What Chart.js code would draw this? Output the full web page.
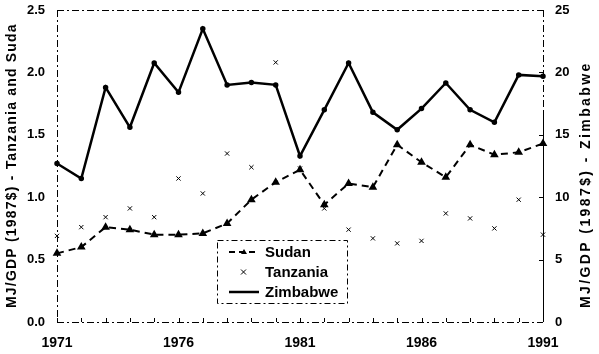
<!DOCTYPE html>
<html>
<head>
<meta charset="utf-8">
<script src="https://cdn.jsdelivr.net/npm/chart.js@4"></script>
<style>
  body { margin: 0; background: #fff; }
  #wrap { width: 599px; height: 354px; }
</style>
</head>
<body>
<div id="wrap"><canvas id="energyChart" width="599" height="354"></canvas></div>
<script>
// Years on the x axis
const years = ["1971", "1972", "1973", "1974", "1975", "1976", "1977", "1978", "1979", "1980",
  "1981", "1982", "1983", "1984", "1985", "1986", "1987", "1988", "1989", "1990", "1991"];

// MJ/GDP, left axis
const sudan = [0.55, 0.60, 0.76, 0.74, 0.70, 0.70, 0.71, 0.79, 0.98, 1.12,
  1.22, 0.94, 1.11, 1.08, 1.42, 1.28, 1.16, 1.42, 1.34, 1.36, 1.43];
const tanzania = [0.69, 0.76, 0.84, 0.91, 0.84, 1.15, 1.03, 1.35, 1.24, 2.08,
  1.23, 0.91, 0.74, 0.67, 0.63, 0.65, 0.87, 0.83, 0.75, 0.98, 0.70];

// MJ/GDP, right axis
const zimbabwe = [12.7, 11.5, 18.8, 15.6, 20.75, 18.4, 23.5, 19.0, 19.2, 19.0,
  13.3, 17.0, 20.75, 16.8, 15.4, 17.1, 19.15, 17.0, 16.0, 19.8, 19.7];

// Tick labels shown on the x axis
const xTickLabels = ["1971", "1976", "1981", "1986", "1991"];

const leftTitle = "MJ/GDP (1987$) - Tanzania and Suda";
const rightTitle = "MJ/GDP (1987$) - Zimbabwe";

const tickFont = { family: "Liberation Sans, Arial, sans-serif", size: 13, weight: "bold" };

// Frame, inner tick marks, axis titles and the boxed legend
const framePlugin = {
  id: "frame",
  afterDraw(chart) {
    const ctx = chart.ctx;
    const a = chart.chartArea;
    const x = chart.scales.x;
    const yR = chart.scales.y1;
    ctx.save();
    ctx.strokeStyle = "#000";
    ctx.fillStyle = "#000";
    ctx.lineWidth = 1;

    ctx.setLineDash([7, 3, 2, 3]);
    ctx.beginPath();
    ctx.moveTo(a.left, a.top + 0.5); ctx.lineTo(a.right, a.top + 0.5);
    ctx.moveTo(a.left + 0.5, a.top); ctx.lineTo(a.left + 0.5, a.bottom);
    ctx.moveTo(a.left, a.bottom + 0.5); ctx.lineTo(a.right, a.bottom + 0.5);
    ctx.moveTo(a.right + 0.5, a.top); ctx.lineTo(a.right + 0.5, a.top + 100);
    ctx.stroke();
    ctx.setLineDash([]);
    ctx.beginPath();
    ctx.moveTo(a.right + 0.5, a.top + 100); ctx.lineTo(a.right + 0.5, a.bottom);
    ctx.stroke();

    // small ticks pointing into the plot
    ctx.beginPath();
    years.forEach((yr, i) => {
      const px = Math.round(x.getPixelForValue(i)) + 0.5;
      ctx.moveTo(px, a.bottom); ctx.lineTo(px, a.bottom - 4);
    });
    [0, 5, 10, 15, 20, 25].forEach(v => {
      const py = Math.round(yR.getPixelForValue(v)) + 0.5;
      ctx.moveTo(a.right, py); ctx.lineTo(a.right - 4, py);
    });
    ctx.stroke();

    // axis titles (rotated, spaced like the scan)
    ctx.font = "bold 14px Liberation Sans, Arial, sans-serif";
    ctx.textBaseline = "middle";
    ctx.textAlign = "left";
    ctx.save();
    ctx.translate(12, 308);
    ctx.rotate(-Math.PI / 2);
    ctx.letterSpacing = "1.2px";
    ctx.fillText(leftTitle, 0, 0);
    ctx.restore();
    ctx.save();
    ctx.translate(586, 308);
    ctx.rotate(-Math.PI / 2);
    ctx.letterSpacing = "2.4px";
    ctx.fillText(rightTitle, 0, 0);
    ctx.restore();

    // legend
    const lx = 217, ly = 240, lw = 130, lh = 63;
    ctx.setLineDash([6, 3, 2, 3]);
    ctx.strokeRect(lx + 0.5, ly + 0.5, lw, lh);
    ctx.setLineDash([]);
    ctx.font = "bold 15px Liberation Sans, Arial, sans-serif";
    const rows = [
      { label: "Sudan", y: ly + 12 },
      { label: "Tanzania", y: ly + 32 },
      { label: "Zimbabwe", y: ly + 52 }
    ];
    // Sudan sample
    ctx.lineWidth = 2;
    ctx.setLineDash([6, 4]);
    ctx.beginPath(); ctx.moveTo(229, rows[0].y); ctx.lineTo(259, rows[0].y); ctx.stroke();
    ctx.setLineDash([]);
    ctx.beginPath();
    ctx.moveTo(244, rows[0].y - 3); ctx.lineTo(247, rows[0].y + 2); ctx.lineTo(241, rows[0].y + 2);
    ctx.closePath(); ctx.fill();
    // Tanzania sample
    ctx.lineWidth = 1;
    ctx.beginPath();
    ctx.moveTo(241, rows[1].y - 2.5); ctx.lineTo(246, rows[1].y + 2.5);
    ctx.moveTo(246, rows[1].y - 2.5); ctx.lineTo(241, rows[1].y + 2.5);
    ctx.stroke();
    // Zimbabwe sample
    ctx.lineWidth = 2.5;
    ctx.beginPath(); ctx.moveTo(229, rows[2].y); ctx.lineTo(259, rows[2].y); ctx.stroke();
    rows.forEach(r => ctx.fillText(r.label, 265, r.y + 1));
    ctx.restore();
  }
};

const ctx = document.getElementById("energyChart").getContext("2d");
new Chart(ctx, {
  type: "line",
  data: {
    labels: years,
    datasets: [
      {
        label: "Sudan",
        data: sudan,
        yAxisID: "y",
        borderColor: "#000",
        backgroundColor: "#000",
        borderWidth: 2,
        borderDash: [7, 5],
        pointStyle: "triangle",
        pointRadius: 3,
        tension: 0,
        clip: false
      },
      {
        label: "Tanzania",
        data: tanzania,
        yAxisID: "y",
        showLine: false,
        borderColor: "#000",
        backgroundColor: "#000",
        borderWidth: 1,
        pointStyle: "crossRot",
        pointRadius: 3,
        clip: false
      },
      {
        label: "Zimbabwe",
        data: zimbabwe,
        yAxisID: "y1",
        borderColor: "#000",
        backgroundColor: "#000",
        borderWidth: 2.5,
        pointStyle: "circle",
        pointRadius: 1.5,
        tension: 0,
        clip: false
      }
    ]
  },
  options: {
    responsive: false,
    animation: false,
    layout: { padding: { top: 10, left: 0, right: 0, bottom: 0 } },
    plugins: {
      legend: { display: false },
      tooltip: { enabled: false }
    },
    scales: {
      x: {
        offset: false,
        grid: { display: false, drawTicks: false },
        border: { display: false },
        afterFit(s) { s.height = 32; },
        ticks: {
          color: "#000",
          font: { ...tickFont, size: 14 },
          padding: 13,
          autoSkip: false,
          maxRotation: 0,
          callback(val, i) {
            return xTickLabels.includes(years[i]) ? years[i] : "";
          }
        }
      },
      y: {
        position: "left",
        min: 0,
        max: 2.5,
        grid: { display: false, drawTicks: false },
        border: { display: false },
        afterFit(s) { s.width = 57; s.paddingTop = 0; s.paddingBottom = 0; },
        ticks: {
          stepSize: 0.5,
          color: "#000",
          font: tickFont,
          padding: 12,
          callback: v => v.toFixed(1)
        }
      },
      y1: {
        position: "right",
        min: 0,
        max: 25,
        grid: { display: false, drawTicks: false },
        border: { display: false },
        afterFit(s) { s.width = 56; s.paddingTop = 0; s.paddingBottom = 0; },
        ticks: {
          stepSize: 5,
          color: "#000",
          font: tickFont,
          padding: 12
        }
      }
    }
  },
  plugins: [framePlugin]
});
</script>
</body>
</html>
